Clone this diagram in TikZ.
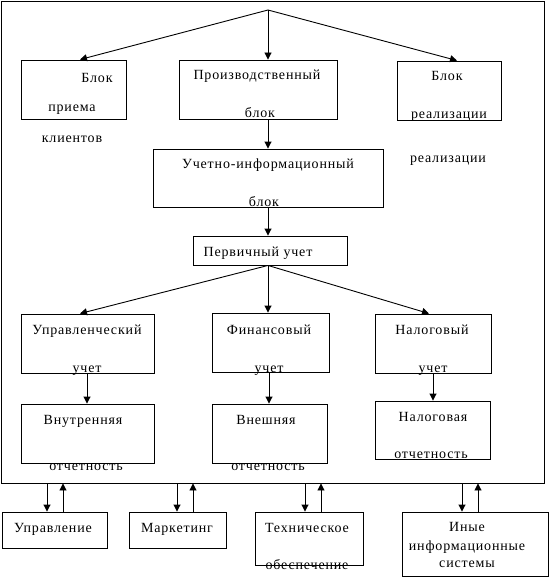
\documentclass[tikz,border=0pt]{standalone}
\usepackage{fontspec}
\setmainfont{Liberation Serif}[LetterSpace=6]
\usetikzlibrary{arrows.meta}
\tikzset{
  box/.style={draw, line width=0.9pt, rectangle, inner sep=0pt},
  lbl/.style={inner sep=0pt, anchor=base, font=\fontsize{14}{16}\selectfont},
  arr/.style={line width=0.9pt, -{Triangle[length=7pt,width=7pt]}},
}
\begin{document}
\begin{tikzpicture}[x=1pt,y=-1pt]
\useasboundingbox (0,0) rectangle (549,578);
% frame
\node[box, minimum width=542.5, minimum height=481.5] (frame) at (272.75,242.25) {};
\coordinate (apex) at (268,10);
% boxes
\node[box, minimum width=105, minimum height=59] (b1) at (73.5,89.5) {};
\node[box, minimum width=158, minimum height=59] (b2) at (258,89.5) {};
\node[box, minimum width=104, minimum height=59] (b3) at (449,90.5) {};
\node[box, minimum width=230, minimum height=58] (b4) at (268,178) {};
\node[box, minimum width=154, minimum height=29] (b5) at (270,250.5) {};
\node[box, minimum width=133, minimum height=59] (b6) at (87.5,343.5) {};
\node[box, minimum width=117, minimum height=59] (b7) at (270.5,342.5) {};
\node[box, minimum width=116, minimum height=59] (b8) at (433,343.5) {};
\node[box, minimum width=133, minimum height=59] (b9) at (87.5,433.5) {};
\node[box, minimum width=115, minimum height=59] (b10) at (269.5,433.5) {};
\node[box, minimum width=115, minimum height=58] (b11) at (432.5,430) {};
\node[box, minimum width=105, minimum height=36] (c1) at (54.5,530) {};
\node[box, minimum width=97, minimum height=36] (c2) at (177.5,530) {};
\node[box, minimum width=108, minimum height=53] (c3) at (309,538.5) {};
\node[box, minimum width=146, minimum height=64] (c4) at (475,544) {};
% labels
\node[lbl] (t1a) at (97,82) {Блок};
\node[lbl] (t1b) at (72,111) {приема};
\node[lbl] (t1c) at (72,142) {клиентов};
\node[lbl] (t2a) at (257,80) {Производственный};
\node[lbl] (t2b) at (260,117) {блок};
\node[lbl] (t3a) at (447,81) {Блок};
\node[lbl] (t3b) at (449,118) {реализации};
\node[lbl] (t3c) at (448,162) {реализации};
\node[lbl] (t4a) at (268,168) {Учетно-информационный};
\node[lbl] (t4b) at (264,206) {блок};
\node[lbl] (t5) at (258,256) {Первичный учет};
\node[lbl] (t6a) at (87,334) {Управленческий};
\node[lbl] (t6b) at (87,372) {учет};
\node[lbl] (t7a) at (269,334) {Финансовый};
\node[lbl] (t7b) at (269,372) {учет};
\node[lbl] (t8a) at (432,334) {Налоговый};
\node[lbl] (t8b) at (433,372) {учет};
\node[lbl] (t9a) at (83,424) {Внутренняя};
\node[lbl] (t9b) at (86,470) {отчетность};
\node[lbl] (t10a) at (266,424) {Внешняя};
\node[lbl] (t10b) at (268,470) {отчетность};
\node[lbl] (t11a) at (433,421) {Налоговая};
\node[lbl] (t11b) at (431,458) {отчетность};
\node[lbl] (tc1) at (53,532) {Управление};
\node[lbl] (tc2) at (177,532) {Маркетинг};
\node[lbl] (tc3a) at (307,532) {Техническое};
\node[lbl] (tc3b) at (307,569) {обеспечение};
\node[lbl] (tc4a) at (467,531) {Иные};
\node[lbl] (tc4b) at (467,550) {информационные};
\node[lbl] (tc4c) at (467,567) {системы};
% connectors
\draw[arr] (apex) -- ([xshift=6.5pt]b1.north);
\draw[arr] (apex) -- ([xshift=10pt]b2.north);
\draw[arr] (apex) -- ([xshift=8pt]b3.north);
\draw[arr] ([xshift=10pt]b2.south) -- (b4.north);
\draw[arr] (b4.south) -- (b4.south |- b5.north);
\coordinate (p5) at ([xshift=-2pt]b5.south);
\draw[arr] (p5) -- ([xshift=-7.5pt]b6.north);
\draw[arr] (p5) -- (p5 |- b7.north);
\draw[arr] (p5) -- ([xshift=-4pt]b8.north);
\draw[arr] ([xshift=-0.5pt]b6.south) -- ([xshift=-0.5pt]b9.north);
\draw[arr] ([xshift=-1.5pt]b7.south) -- ([xshift=-0.5pt]b10.north);
\draw[arr] (b8.south) -- ([xshift=0.5pt]b11.north);
% bottom exchanges
\draw[arr] ([xshift=-7.5pt]c1.north |- frame.south) -- ([xshift=-7.5pt]c1.north);
\draw[arr] ([xshift=8.5pt]c1.north) -- ([xshift=8.5pt]c1.north |- frame.south);
\draw[arr] ([xshift=-0.5pt]c2.north |- frame.south) -- ([xshift=-0.5pt]c2.north);
\draw[arr] ([xshift=15.5pt]c2.north) -- ([xshift=15.5pt]c2.north |- frame.south);
\draw[arr] ([xshift=-4pt]c3.north |- frame.south) -- ([xshift=-4pt]c3.north);
\draw[arr] ([xshift=12pt]c3.north) -- ([xshift=12pt]c3.north |- frame.south);
\draw[arr] ([xshift=-13pt]c4.north |- frame.south) -- ([xshift=-13pt]c4.north);
\draw[arr] ([xshift=3pt]c4.north) -- ([xshift=3pt]c4.north |- frame.south);
\end{tikzpicture}
\end{document}
